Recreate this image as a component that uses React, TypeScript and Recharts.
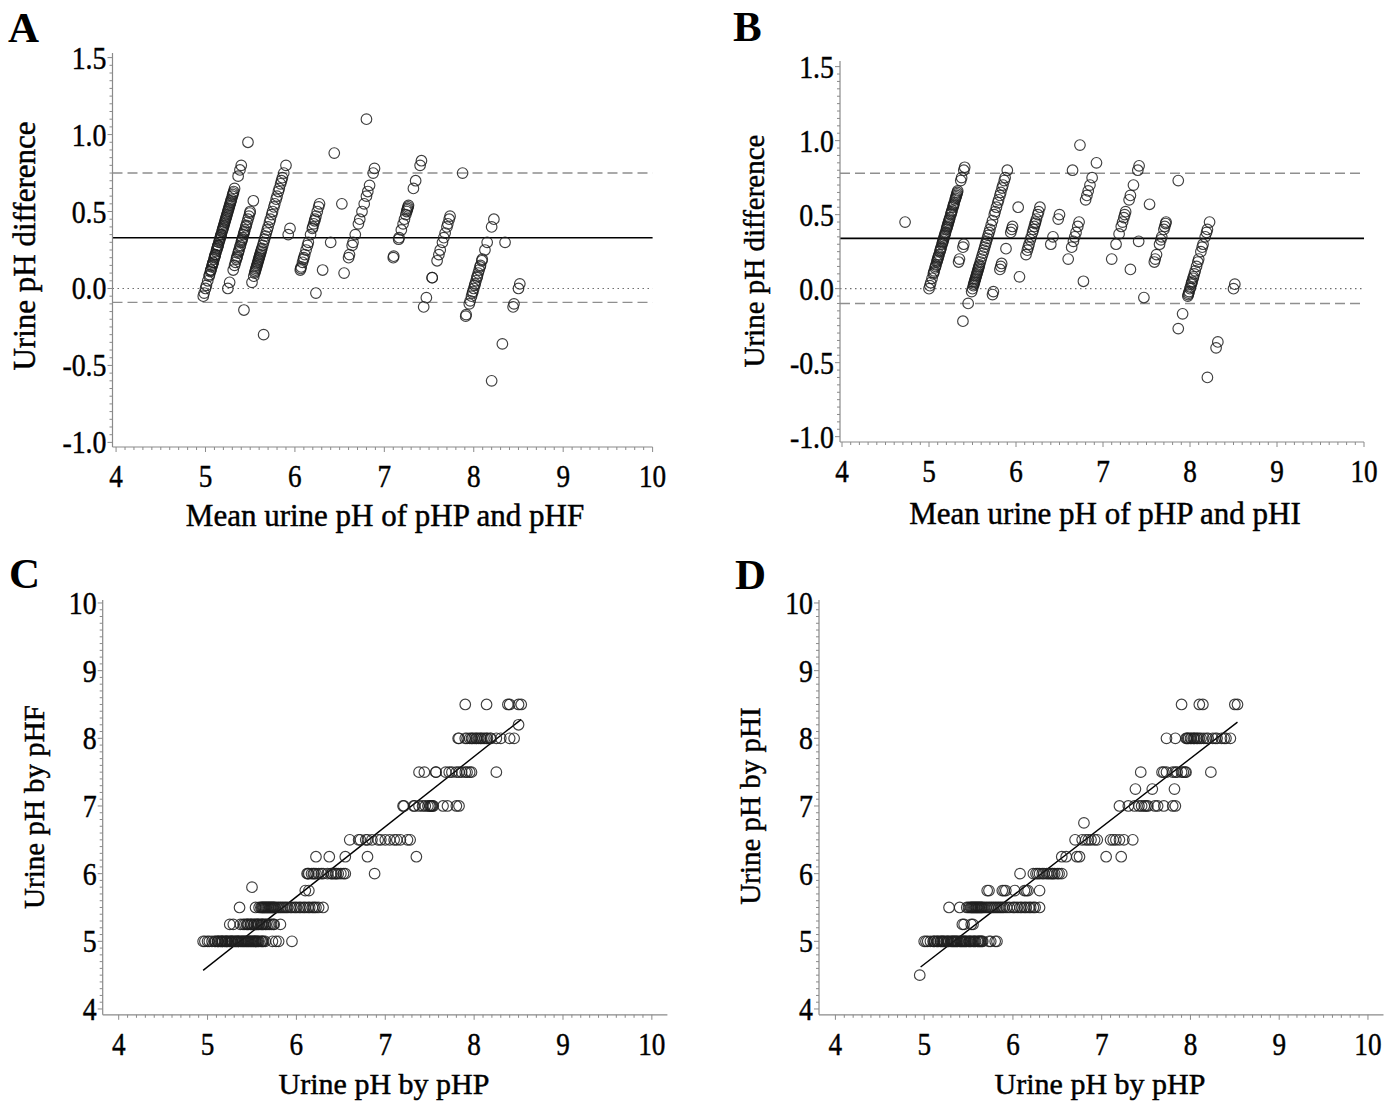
import React from "react";
import { ScatterChart, Scatter, XAxis, YAxis, ReferenceLine } from "recharts";

const FONT = '"Liberation Serif", "Times New Roman", serif';

// pHP readings, grouped by the paired pHF reading (panels A and C)
const pHF_levels = [5.0, 5.25, 5.5, 5.75, 5.8, 6.0, 6.25, 6.5, 7.0, 7.5, 8.0, 8.2, 8.5];
const pHP_by_pHF = [
  [4.95, 4.97, 5.0, 5.02, 5.05, 5.08, 5.09, 5.11, 5.12, 5.12, 5.14, 5.15, 5.16, 5.17, 5.17, 5.19, 5.2, 5.21, 5.22, 5.22, 5.24, 5.25, 5.26, 5.27, 5.28, 5.28, 5.3, 5.31, 5.32, 5.33, 5.34, 5.35, 5.35, 5.37, 5.38, 5.39, 5.4, 5.41, 5.42, 5.43, 5.44, 5.45, 5.46, 5.47, 5.48, 5.49, 5.5, 5.51, 5.52, 5.53, 5.54, 5.55, 5.56, 5.57, 5.58, 5.6, 5.61, 5.62, 5.63, 5.65, 5.73, 5.77, 5.8, 5.95],
  [5.25, 5.29, 5.37, 5.4, 5.42, 5.44, 5.45, 5.46, 5.48, 5.49, 5.5, 5.52, 5.53, 5.55, 5.56, 5.57, 5.58, 5.6, 5.61, 5.62, 5.63, 5.65, 5.66, 5.68, 5.7, 5.72, 5.74, 5.75, 5.82],
  [5.36, 5.54, 5.58, 5.6, 5.61, 5.62, 5.63, 5.64, 5.65, 5.66, 5.67, 5.68, 5.69, 5.7, 5.71, 5.72, 5.73, 5.74, 5.75, 5.76, 5.78, 5.8, 5.82, 5.84, 5.86, 5.88, 5.9, 5.93, 5.95, 5.98, 6.0, 6.03, 6.05, 6.08, 6.1, 6.13, 6.15, 6.18, 6.2, 6.22, 6.25, 6.3],
  [6.1, 6.14],
  [5.5],
  [6.12, 6.13, 6.14, 6.17, 6.19, 6.2, 6.22, 6.25, 6.28, 6.3, 6.35, 6.39, 6.4, 6.42, 6.44, 6.45, 6.47, 6.5, 6.53, 6.55, 6.88],
  [6.22, 6.37, 6.55, 6.8, 7.35],
  [6.6, 6.7, 6.72, 6.78, 6.8, 6.85, 6.92, 6.95, 7.0, 7.05, 7.1, 7.13, 7.17, 7.25, 7.28],
  [7.2, 7.21, 7.32, 7.33, 7.38, 7.42, 7.45, 7.48, 7.5, 7.51, 7.52, 7.53, 7.54, 7.65, 7.7, 7.8, 7.83],
  [7.38, 7.44, 7.57, 7.57, 7.68, 7.72, 7.75, 7.8, 7.83, 7.86, 7.9, 7.92, 7.95, 7.97, 8.25],
  [7.82, 7.83, 7.9, 7.92, 7.95, 7.97, 7.98, 8.0, 8.02, 8.03, 8.05, 8.07, 8.08, 8.1, 8.12, 8.14, 8.15, 8.18, 8.19, 8.25, 8.3, 8.4, 8.45],
  [8.5],
  [7.9, 8.14, 8.38, 8.4, 8.5, 8.53],
];

// pHP readings, grouped by the paired pHI reading (panels B and D)
const pHI_levels = [4.5, 5.0, 5.25, 5.5, 5.75, 6.0, 6.25, 6.5, 6.75, 7.0, 7.25, 7.5, 8.0, 8.5];
const pHP_by_pHI = [
  [4.95],
  [5.0, 5.02, 5.04, 5.07, 5.1, 5.11, 5.12, 5.14, 5.15, 5.16, 5.18, 5.19, 5.2, 5.21, 5.22, 5.23, 5.25, 5.26, 5.27, 5.28, 5.3, 5.31, 5.32, 5.33, 5.34, 5.35, 5.36, 5.37, 5.38, 5.4, 5.41, 5.42, 5.43, 5.44, 5.45, 5.46, 5.47, 5.48, 5.5, 5.51, 5.52, 5.53, 5.55, 5.56, 5.57, 5.58, 5.6, 5.61, 5.62, 5.63, 5.64, 5.65, 5.66, 5.73, 5.75, 5.8, 5.82],
  [5.43, 5.45, 5.53, 5.55],
  [5.28, 5.4, 5.48, 5.5, 5.52, 5.53, 5.54, 5.55, 5.56, 5.57, 5.58, 5.59, 5.6, 5.61, 5.62, 5.63, 5.64, 5.65, 5.66, 5.68, 5.7, 5.72, 5.74, 5.76, 5.78, 5.8, 5.82, 5.84, 5.86, 5.88, 5.9, 5.93, 5.96, 6.0, 6.02, 6.05, 6.08, 6.1, 6.13, 6.15, 6.18, 6.2, 6.23, 6.25, 6.3],
  [5.71, 5.73, 5.88, 5.9, 5.92, 6.02, 6.13, 6.15, 6.17, 6.3],
  [6.08, 6.23, 6.26, 6.28, 6.3, 6.33, 6.35, 6.38, 6.4, 6.42, 6.44, 6.45, 6.47, 6.5, 6.52, 6.55],
  [6.55, 6.6, 6.72, 6.75, 7.05, 7.22],
  [6.7, 6.78, 6.82, 6.85, 6.88, 6.92, 6.95, 7.1, 7.13, 7.16, 7.2, 7.25, 7.35],
  [6.8],
  [7.2, 7.3, 7.37, 7.42, 7.45, 7.48, 7.5, 7.52, 7.6, 7.63, 7.7, 7.8, 7.83],
  [7.38, 7.57, 7.82],
  [7.44, 7.68, 7.7, 7.73, 7.8, 7.83, 7.85, 7.9, 7.92, 7.94, 7.95, 8.23],
  [7.73, 7.83, 7.95, 7.96, 7.97, 7.98, 8.0, 8.01, 8.03, 8.04, 8.05, 8.07, 8.08, 8.1, 8.12, 8.15, 8.18, 8.2, 8.25, 8.28, 8.3, 8.35, 8.38, 8.4, 8.45],
  [7.9, 8.1, 8.14, 8.5, 8.53],
];

// Bland-Altman summary lines (mean difference, 95% limits of agreement)
const baLines_F = [0.33, -0.09, 0.75];
const baLines_I = [0.34, -0.1, 0.78];

// regression lines for C and D (end points)
const fitLine_F = [{ x: 4.95, y: 4.57 }, { x: 8.53, y: 8.28 }];
const fitLine_I = [{ x: 4.96, y: 4.62 }, { x: 8.53, y: 8.24 }];

const phTicks = [4, 5, 6, 7, 8, 9, 10];
const diffTicks = [-1.0, -0.5, 0.0, 0.5, 1.0, 1.5];

type Pt = { x: number; y: number };

function scatterPoints(levels: number[], groups: number[][]): Pt[] {
  const out: Pt[] = [];
  levels.forEach((ref, i) => groups[i].forEach((p) => out.push({ x: p, y: ref })));
  return out;
}

// mean of the two methods vs pHP minus the other method
function blandAltman(levels: number[], groups: number[][]): Pt[] {
  const out: Pt[] = [];
  levels.forEach((ref, i) =>
    groups[i].forEach((p) => out.push({ x: (p + ref) / 2, y: +(p - ref).toFixed(3) }))
  );
  return out;
}

function withMinor(major: number[]) {
  const step = (major[1] - major[0]) / 10;
  const n = Math.round((major[major.length - 1] - major[0]) / step);
  const out: number[] = [];
  for (let i = 0; i <= n; i++) out.push(+(major[0] + i * step).toFixed(4));
  return out;
}

const AXIS = "#8a8a8a";
const TICK_SIZE = 32;
// the reference text is a little heavier than plain Liberation Serif
const INK = { fill: "#000", stroke: "#000", strokeWidth: 0.45 };

function makeTick(orient: "x" | "y", major: number[], fmt: (v: number) => string) {
  return (props: any) => {
    const { x, y, payload } = props;
    const v = payload.value;
    const isMajor = major.some((m) => Math.abs(m - v) < 1e-6);
    const len = isMajor ? 5 : 3;
    if (orient === "x") {
      return (
        <g>
          <line x1={x} y1={y} x2={x} y2={y + len} stroke={AXIS} strokeWidth={1} />
          {isMajor && (
            <text
              transform={`translate(${x},${y + 40}) scale(0.85,1)`}
              textAnchor="middle"
              fontFamily={FONT}
              fontSize={TICK_SIZE}
              {...INK}
            >
              {fmt(v)}
            </text>
          )}
        </g>
      );
    }
    return (
      <g>
        <line x1={x} y1={y} x2={x - len} y2={y} stroke={AXIS} strokeWidth={1} />
        {isMajor && (
          <text
            transform={`translate(${x - 6},${y + 11}) scale(0.87,1)`}
            textAnchor="end"
            fontFamily={FONT}
            fontSize={TICK_SIZE}
            {...INK}
          >
            {fmt(v)}
          </text>
        )}
      </g>
    );
  };
}

const Ring = (props: any) => (
  <circle
    cx={props.cx}
    cy={props.cy}
    r={5.3}
    fill="none"
    stroke="#1e1e1e"
    strokeOpacity={0.85}
    strokeWidth={1.15}
  />
);

interface PanelProps {
  left: number;
  top: number;
  width: number;
  height: number;
  plot: { x0: number; x1: number; y0: number; y1: number };
  xDomain: [number, number];
  yDomain: [number, number];
  yMajor: number[];
  yFmt: (v: number) => string;
  data: Pt[];
  letter: { text: string; x: number; y: number };
  xTitle: { text: string; x: number; y: number; size: number };
  yTitle: { text: string; x: number; y: number; size: number };
  children?: React.ReactNode;
}

function Panel(p: PanelProps) {
  const { left, top, plot } = p;
  const margin = { top: plot.y0 - top, right: left + p.width - plot.x1, bottom: 0, left: 0 };
  return (
    <div style={{ position: "absolute", left, top, width: p.width, height: p.height }}>
      <ScatterChart width={p.width} height={p.height} margin={margin}>
        <XAxis
          type="number"
          dataKey="x"
          domain={p.xDomain}
          allowDataOverflow
          ticks={withMinor(phTicks)}
          interval={0}
          tickSize={0}
          tickMargin={0}
          tickLine={false}
          axisLine={{ stroke: AXIS, strokeWidth: 1.2 }}
          height={top + p.height - plot.y1}
          tick={makeTick("x", phTicks, (v) => String(v))}
          label={() => (
            <text
              x={p.xTitle.x - left}
              y={p.xTitle.y - top}
              textAnchor="middle"
              fontFamily={FONT}
              fontSize={p.xTitle.size}
              {...INK}
            >
              {p.xTitle.text}
            </text>
          )}
        />
        <YAxis
          type="number"
          dataKey="y"
          domain={p.yDomain}
          allowDataOverflow
          ticks={withMinor(p.yMajor)}
          interval={0}
          tickSize={0}
          tickMargin={0}
          tickLine={false}
          axisLine={{ stroke: AXIS, strokeWidth: 1.2 }}
          width={plot.x0 - left}
          tick={makeTick("y", p.yMajor, p.yFmt)}
          label={() => (
            <g>
              <text
                x={p.letter.x - left}
                y={p.letter.y - top}
                fontFamily={FONT}
                fontWeight="bold"
                fontSize={43}
                fill="#000"
              >
                {p.letter.text}
              </text>
              <text
                transform={`translate(${p.yTitle.x - left},${p.yTitle.y - top}) rotate(-90)`}
                textAnchor="middle"
                fontFamily={FONT}
                fontSize={p.yTitle.size}
                {...INK}
              >
                {p.yTitle.text}
              </text>
            </g>
          )}
        />
        {p.children}
        <Scatter data={p.data} shape={Ring} isAnimationActive={false} />
      </ScatterChart>
    </div>
  );
}

const fmt1 = (v: number) => v.toFixed(1);
const fmt0 = (v: number) => String(v);

function baRefs(lines: number[]) {
  return [
    <ReferenceLine key="zero" y={0} stroke="#6e6e6e" strokeWidth={1.2} strokeDasharray="1.5 3.5" />,
    <ReferenceLine key="lo" y={lines[1]} stroke="#8f8f8f" strokeWidth={1.4} strokeDasharray="10 5" />,
    <ReferenceLine key="hi" y={lines[2]} stroke="#8f8f8f" strokeWidth={1.4} strokeDasharray="10 5" />,
    <ReferenceLine key="mean" y={lines[0]} stroke="#000" strokeWidth={1.6} />,
  ];
}

export default function App() {
  return (
    <div style={{ position: "absolute", left: 0, top: 0, width: 1396, height: 1101, background: "#fff" }}>
      <Panel
        left={0}
        top={0}
        width={698}
        height={545}
        plot={{ x0: 112.5, x1: 652.6, y0: 53, y1: 447 }}
        xDomain={[3.96, 10]}
        yDomain={[-1.03, 1.53]}
        yMajor={diffTicks}
        yFmt={fmt1}
        data={blandAltman(pHF_levels, pHP_by_pHF)}
        letter={{ text: "A", x: 8, y: 42 }}
        xTitle={{ text: "Mean urine pH of pHP and pHF", x: 385, y: 526, size: 31 }}
        yTitle={{ text: "Urine pH  difference", x: 35, y: 246, size: 31 }}
      >
        {baRefs(baLines_F)}
      </Panel>
      <Panel
        left={698}
        top={0}
        width={698}
        height={545}
        plot={{ x0: 840, x1: 1364, y0: 61, y1: 442 }}
        xDomain={[3.977, 10]}
        yDomain={[-1.036, 1.538]}
        yMajor={diffTicks}
        yFmt={fmt1}
        data={blandAltman(pHI_levels, pHP_by_pHI)}
        letter={{ text: "B", x: 733, y: 41 }}
        xTitle={{ text: "Mean urine pH of pHP and pHI", x: 1105, y: 524, size: 31 }}
        yTitle={{ text: "Urine pH  difference", x: 764, y: 251, size: 29 }}
      >
        {baRefs(baLines_I)}
      </Panel>
      <Panel
        left={0}
        top={545}
        width={698}
        height={556}
        plot={{ x0: 102.7, x1: 667.4, y0: 600, y1: 1014.8 }}
        xDomain={[3.82, 10.175]}
        yDomain={[3.914, 10.044]}
        yMajor={phTicks}
        yFmt={fmt0}
        data={scatterPoints(pHF_levels, pHP_by_pHF)}
        letter={{ text: "C", x: 9, y: 588 }}
        xTitle={{ text: "Urine pH by pHP", x: 384, y: 1094, size: 30 }}
        yTitle={{ text: "Urine pH by pHF", x: 44, y: 807, size: 29 }}
      >
        <ReferenceLine segment={fitLine_F} stroke="#000" strokeWidth={1.4} />
      </Panel>
      <Panel
        left={698}
        top={545}
        width={698}
        height={556}
        plot={{ x0: 819, x1: 1383.5, y0: 600, y1: 1014.8 }}
        xDomain={[3.815, 10.175]}
        yDomain={[3.914, 10.044]}
        yMajor={phTicks}
        yFmt={fmt0}
        data={scatterPoints(pHI_levels, pHP_by_pHI)}
        letter={{ text: "D", x: 735, y: 589 }}
        xTitle={{ text: "Urine pH by pHP", x: 1100, y: 1094, size: 30 }}
        yTitle={{ text: "Urine pH by pHI", x: 760, y: 806, size: 29 }}
      >
        <ReferenceLine segment={fitLine_I} stroke="#000" strokeWidth={1.4} />
      </Panel>
    </div>
  );
}
